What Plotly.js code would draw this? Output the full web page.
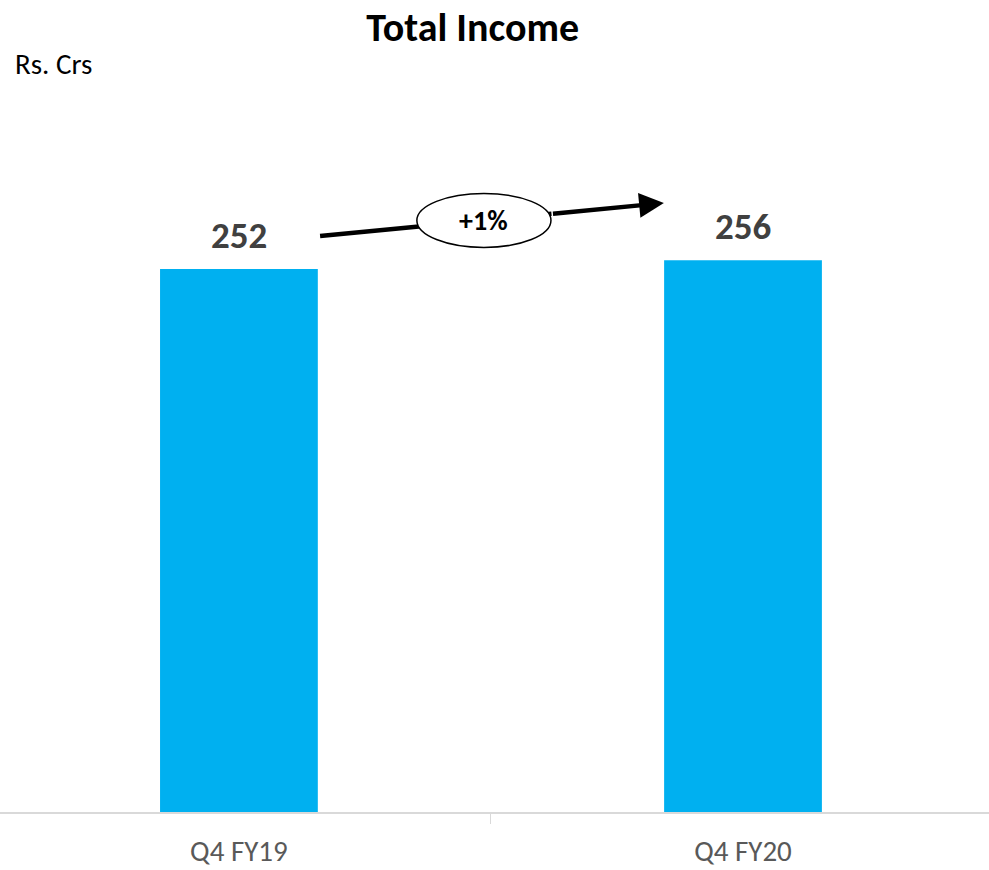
<!DOCTYPE html>
<html>
<head>
<meta charset="utf-8">
<script src="https://cdn.plot.ly/plotly-3.0.1.min.js"></script>
<style>html,body{margin:0;padding:0;background:#fff;}#chart{width:989px;height:870px;}</style>
</head>
<body>
<div id="chart"></div>
<script>
const categories = ["Q4 FY19", "Q4 FY20"];
const totalIncome = [252, 256];
const growthLabel = "+1%";
const titleText = "Total Income";
const unitText = "Rs. Crs";

const FONT = 'Carlito, "Open Sans", Arial, sans-serif';

const trace = {
  type: "bar",
  x: categories,
  y: totalIncome,
  width: 0.313,
  marker: {color: "#00B0F0"},
  hoverinfo: "skip"
};

// value labels above bars
const valueAnn = categories.map((c, i) => ({
  x: c, y: totalIncome[i], xref: "x", yref: "y",
  text: "<b>" + totalIncome[i] + "</b>",
  showarrow: false, yanchor: "bottom", yshift: 9,
  font: {family: FONT, size: 37, color: "#404040"}
}));

// growth arrow geometry (category index units / value units)
const tail = {x: 0.161, y: 267.3};
const head = {x: 0.843, y: 282.6};
const ell = {x0: 0.353, x1: 0.619, y0: 262.0, y1: 287.0};
const ellRight = {x: 0.62, y: 277.6};

const layout = {
  width: 989, height: 870,
  margin: {l: 0, r: 0, t: 100, b: 58},
  paper_bgcolor: "#ffffff", plot_bgcolor: "#ffffff",
  showlegend: false,
  title: {
    text: "<b>" + titleText + "</b>",
    x: 0.478, xanchor: "center", xref: "paper",
    y: 0.969, yanchor: "middle", yref: "container",
    font: {family: FONT, size: 40, color: "#000000"}
  },
  xaxis: {
    type: "category",
    range: [-0.474, 1.488],
    showgrid: false, zeroline: false,
    showline: true, linecolor: "#d9d9d9", linewidth: 2,
    ticks: "outside", tickson: "boundaries", ticklen: 10, tickcolor: "#d9d9d9", tickwidth: 1,
    ticklabelstandoff: 12,
    tickfont: {family: FONT, size: 29, color: "#595959"}
  },
  yaxis: {
    range: [0, 330.4],
    visible: false, showgrid: false, zeroline: false
  },
  shapes: [
    {type: "line", xref: "x", yref: "y", x0: tail.x, y0: tail.y, x1: ellRight.x, y1: ellRight.y,
     line: {color: "#000000", width: 4.5}, layer: "above"},
    {type: "circle", xref: "x", yref: "y", x0: ell.x0, x1: ell.x1, y0: ell.y0, y1: ell.y1,
     fillcolor: "#ffffff", line: {color: "#000000", width: 1.5}, layer: "above"}
  ],
  annotations: valueAnn.concat([
    {x: head.x, y: head.y, xref: "x", yref: "y",
     ax: ellRight.x, ay: ellRight.y, axref: "x", ayref: "y",
     text: "", showarrow: true, arrowhead: 2, arrowsize: 1.1, arrowwidth: 4.5, arrowcolor: "#000000", standoff: 0},
    {x: (ell.x0 + ell.x1) / 2, y: (ell.y0 + ell.y1) / 2, xref: "x", yref: "y",
     text: "<b>" + growthLabel + "</b>", showarrow: false,
     font: {family: FONT, size: 28, color: "#000000"}},
    {x: 13 / 989, y: 1 + (100 - 64) / 712, xref: "paper", yref: "paper",
     xanchor: "left", yanchor: "middle",
     text: unitText, showarrow: false,
     font: {family: FONT, size: 29, color: "#000000"}}
  ])
};

Plotly.newPlot("chart", [trace], layout, {displayModeBar: false, staticPlot: true});
</script>
</body>
</html>
